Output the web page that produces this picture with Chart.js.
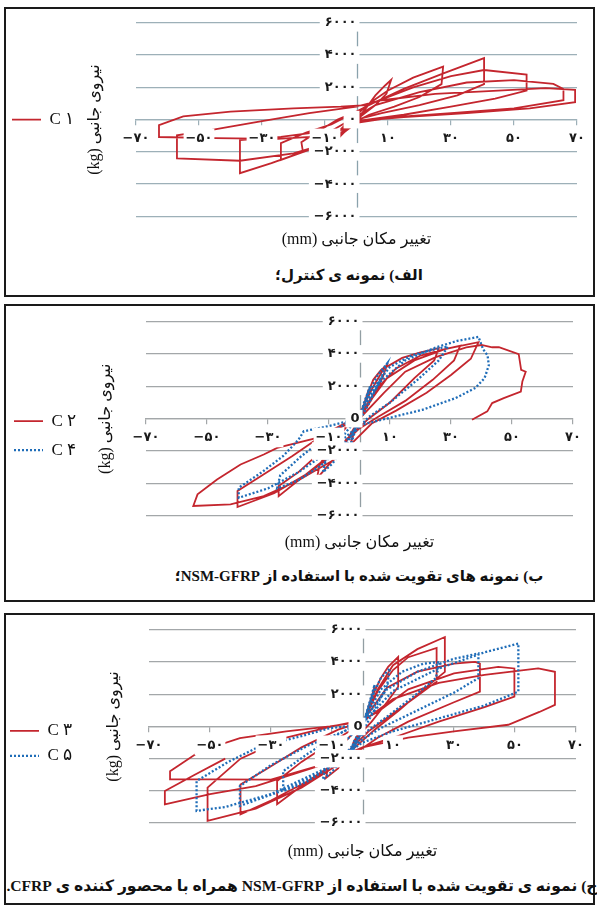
<!DOCTYPE html>
<html lang="fa">
<head>
<meta charset="utf-8">
<script src="https://cdn.jsdelivr.net/npm/chart.js@4.4.1/dist/chart.umd.min.js"></script>
<style>
  body { margin: 0; width: 597px; height: 906px; background: #fff; position: relative; overflow: hidden; }
  .box { position: absolute; left: 4px; width: 591px; box-sizing: border-box; border: 2px solid #1a1a1a; }
  canvas { position: absolute; left: 2px; }
  .caption { position: absolute; transform: translateX(-50%); direction: rtl; white-space: nowrap;
             font: bold 15px 'Liberation Serif', 'DejaVu Sans', serif; color: #111; }
</style>
</head>
<body>
<div class="box" style="top:7px;height:290px"></div>
<div class="box" style="top:304px;height:298px"></div>
<div class="box" style="top:613px;height:292px"></div>

<canvas id="chart1" width="592" height="245" style="top:9px"></canvas>
<canvas id="chart2" width="592" height="250" style="top:306px"></canvas>
<canvas id="chart3" width="592" height="248" style="top:616px"></canvas>

<div class="caption" style="left:349px;top:266px">الف) نمونه ی کنترل؛</div>
<div class="caption" style="left:359px;top:567px">ب) نمونه های تقویت شده با استفاده از NSM-GFRP؛</div>
<div class="caption" style="left:302px;top:877px;font-size:15.6px">ج) نمونه ی تقویت شده با استفاده از NSM-GFRP همراه با محصور کننده ی CFRP.</div>

<script>
// محورها
const xTickValues = [-70, -50, -30, -10, 10, 30, 50, 70];
const xTickLabels = ['−۷۰', '−۵۰', '−۳۰', '−۱۰', '۱۰', '۳۰', '۵۰', '۷۰'];
const yTickValues = [-6000, -4000, -2000, 0, 2000, 4000, 6000];
const yTickLabels = ['−۶۰۰۰', '−۴۰۰۰', '−۲۰۰۰', '۰', '۲۰۰۰', '۴۰۰۰', '۶۰۰۰'];
const yTickLabelsB = ['−۶۰۰۰', '−۴۰۰۰', '−۲۰۰۰', '0', '۲۰۰۰', '۴۰۰۰', '۶۰۰۰'];

const yTitle = '\u202Bنیروی جانبی (kg)\u202C';
const xTitle = '\u202Bتغییر مکان جانبی (mm)\u202C';

// [تغییر مکان mm, نیرو kg]
const c1Loop = [
  [0, 0], [3, 700], [6, 1500], [9, 2100], [11, 2460], [9.5, 1600], [6, 900], [2, 300], [0, 0], [-3, -600], [-5.5, -1100], [-7.5, -1500], [-7, -1000], [-4, -400], [0, 300],
  [4, 1000], [10, 1800], [18, 2600], [27.5, 3280], [27, 2200], [20, 1400], [12, 800], [4, 300], [0, -100], [-5, -900], [-10, -1500], [-17, -2000], [-17.5, -1400], [-12, -700], [-6, 0], [0, 500],
  [5, 1000], [15, 1900], [28, 2900], [40.5, 3810], [40.5, 2200], [32, 1500], [20, 900], [8, 400], [0, 0], [-6, -1000], [-14, -1800], [-24, -2500], [-24, -1460], [-16, -800], [-8, -300], [0, 500],
  [6, 1100], [18, 2000], [30, 2700], [40.5, 3075], [54, 2790], [54, 1800], [44, 1300], [30, 800], [15, 300], [0, -100], [-8, -1300], [-17, -2000], [-27, -2700], [-37, -3320], [-37, -1270], [-24, -1070], [-7.6, -660], [0, 200],
  [6, 900], [20, 1700], [35, 2300], [50, 2450], [62.5, 2210], [65.7, 1900], [65.7, 1200], [50, 700], [30, 400], [12, 150], [0, -200], [-8, -1400], [-20, -2100], [-37, -2550], [-57, -2400], [-57, -970], [-45, -600], [-30, -100], [-15, 400], [0, 800],
  [8, 1200], [25, 1600], [45, 1800], [60, 1950], [69.4, 1845], [69.4, 1080], [55, 700], [35, 400], [15, 150], [0, -100], [-8, -1000], [-25, -1200], [-45, -1150], [-62.7, -1080], [-62.7, -350], [-55, 200], [-40, 500], [-20, 700], [-5, 800], [3, 900]
];

const c2Loop = [
  [0, 0], [1.5, 900], [3, 1800], [2, 1100], [0, 200], [-1.5, -700], [-3, -1600], [-2, -900], [0, 0],
  [2, 1200], [4.5, 2400], [7, 3000], [9, 3300], [7.5, 2500], [4, 1200], [0, 0], [-4, -1300], [-9, -2600], [-14, -3700], [-13, -2800], [-8, -1400], [-3, -200], [0, 300],
  [4, 1800], [8, 3100], [14, 3750], [20, 4100], [26, 4350], [24.5, 3600], [18, 2500], [10, 1000], [3, 0], [-5, -1400], [-12, -2700], [-20, -3800], [-26.5, -4780], [-26.5, -4160], [-20, -3300], [-13, -2100], [-6, -800], [0, 200],
  [6, 1900], [12, 3100], [20, 3900], [28, 4300], [33, 4500], [31, 3600], [24, 2400], [15, 1100], [6, 100], [0, -600], [-8, -2000], [-18, -3500], [-28, -4600], [-40, -5450], [-40, -4470], [-32, -3500], [-22, -2300], [-12, -1000], [0, 200],
  [9, 2500], [18, 3600], [28, 4300], [39, 4720], [36.5, 3700], [30, 2700], [22, 1600], [12, 500], [4, -300], [-7.3, -2420], [-20.4, -3850], [-31.4, -4780], [-42.3, -5290], [-54.5, -5390], [-53.1, -4670], [-46.7, -3750], [-39, -2830], [-31.4, -2210], [-27, -1800], [-13.9, -1190], [0, 0],
  [8, 1600], [15, 2900], [25, 3800], [35, 4400], [40, 4550], [43.5, 4410], [45.7, 4410], [52.2, 3980], [53, 3010], [54.5, 2900], [53.4, 2300], [52.9, 1680], [47.3, 1270], [43.5, 965], [41.9, 450], [36.9, -60]
];

const c4Loop = [
  [0, 0], [1.5, 1000], [3.5, 2000], [2, 1000], [0, 100], [-1.5, -800], [-3, -1700], [-2, -800], [0, 0],
  [3, 1600], [6, 2700], [9, 3400], [7, 2500], [3, 900], [0, -100], [-4, -1500], [-9, -2800], [-12, -3300], [-11, -2500], [-6, -1200], [0, 200],
  [5, 2000], [10, 3200], [17, 3900], [25, 4300], [29, 4450], [26, 3600], [19, 2400], [10, 1000], [3, 100], [-4, -1300], [-12, -2800], [-20, -3800], [-27, -4300], [-26, -3500], [-19, -2300], [-10, -1000], [0, 300],
  [7, 2300], [15, 3600], [25, 4400], [32, 4800], [39, 5050], [40.5, 4300], [42, 3900], [42.4, 3300], [41, 2500], [38, 1900], [31.5, 1270], [20.6, 550], [9.6, 40], [0, -400], [-10, -2000], [-20, -3300], [-30, -4300], [-39.6, -4880], [-39.6, -4260], [-32, -3300], [-25, -2300], [-20, -1300], [-18.3, -780], [-10, -450], [-4, -170], [0, 0]
];

const c3Loop = [
  [0, 0], [2, 1200], [4, 2500], [3, 1500], [0, 100], [-2, -900], [-4, -1800], [-3, -1000], [0, 0],
  [3, 1800], [6, 3000], [8.4, 3700], [11.7, 4320], [11.7, 2470], [8, 1500], [3, 300], [0, -300], [-4, -1500], [-8, -2600], [-12, -3200], [-11, -2300], [-6, -1000], [0, 200],
  [5, 2200], [10, 3500], [15, 4300], [24.3, 4870], [24.3, 2780], [18, 1900], [10, 800], [2, -300], [-6, -1800], [-14, -3000], [-20, -3700], [-28, -4830], [-28, -3390], [-20, -2200], [-12, -1200], [0, 200],
  [5, 2300], [10, 3800], [18, 4800], [27, 5550], [27, 3390], [20, 2300], [12, 1000], [4, -200], [-6, -1900], [-18, -3400], [-30, -4600], [-40, -5450], [-40, -3600], [-32, -2700], [-20, -1300], [-8, -200], [0, 300],
  [8, 2400], [18, 3400], [30, 3900], [36.9, 4010], [38.5, 3900], [38.5, 2160], [30, 1500], [15, 300], [5, -700], [-5, -2000], [-20, -3800], [-35, -5100], [-50.8, -5860], [-50.8, -3800], [-40, -2000], [-25, -700], [-10, 0], [0, 400],
  [5, 900], [15, 2300], [30, 3300], [44.5, 3700], [49.8, 3600], [49.8, 1850], [40, 1200], [25, 300], [10, -700], [0, -1300], [-10, -2200], [-30, -3300], [-48.9, -3290], [-63.1, -3290], [-63.1, -2777], [-53.3, -1540], [-40.2, -720], [-25, -300], [-10.7, 0], [0, 300],
  [10, 1700], [25, 2700], [40, 3200], [57.6, 3600], [63.1, 3394], [63.1, 1340], [58, 900], [47.8, 105], [30, -300], [15, -700], [0, -1300], [-15, -2500], [-35, -3700], [-50, -4200], [-64.8, -4830], [-64.8, -4010], [-55, -3000], [-45, -2000]
];

const c5Loop = [
  [0, 0], [2, 1300], [4, 2600], [3, 1500], [0, 0], [-2, -1000], [-4, -1900], [-3, -1000], [0, 0],
  [3, 1800], [6, 3000], [9, 3600], [8, 2500], [3, 700], [0, -300], [-5, -1800], [-10, -2800], [-13, -3300], [-12, -2400], [-6, -1000], [0, 200],
  [6, 2300], [13, 3400], [20, 3900], [25.4, 4000], [24, 3000], [17, 1900], [8, 600], [0, -500], [-8, -2200], [-18, -3400], [-26, -4010], [-26, -2780], [-18, -1700], [-8, -500], [0, 300],
  [8, 2300], [18, 3400], [30, 4200], [38, 4530], [38, 3000], [30, 2100], [18, 1000], [6, -100], [0, -800], [-10, -2500], [-25, -3900], [-40.2, -4930], [-40.2, -3700], [-30, -2400], [-18, -1200], [-6, -300], [0, 200],
  [10, 2200], [25, 3600], [40, 4600], [51.1, 5146], [51.1, 2160], [40, 1300], [25, 500], [10, -300], [0, -1000], [-12, -2600], [-30, -4200], [-45, -5000], [-54.4, -5240], [-54.4, -3390], [-44, -2200], [-34.7, -1330], [-20, -600], [-10.7, -100], [0, 100]
];

const red = '#c4262e';
const blue = '#1f6db8';
const serif = "'Liberation Serif', 'DejaVu Sans', serif";
const tickFont = { family: "'DejaVu Sans'", size: 13, weight: 'bold' };
const titleSize = 16;

function redSeries(label, loop) {
  return { label, data: loop.map(([x, y]) => ({ x, y })), borderColor: red, backgroundColor: red,
           borderWidth: 1.8, borderDash: [], order: 1 };
}
function blueSeries(label, loop) {
  return { label, data: loop.map(([x, y]) => ({ x, y })), borderColor: blue, backgroundColor: blue,
           borderWidth: 2.3, borderDash: [2, 2], order: 0 };
}

// خط قائم محور در x = 0، زیر منحنی ها
const zeroLine = {
  id: 'zeroLine',
  beforeDatasetsDraw(chart, args, opts) {
    const { ctx, chartArea, scales } = chart;
    const x = Math.round(scales.x.getPixelForValue(0)) + 0.5;
    ctx.save();
    ctx.setLineDash([]);
    ctx.strokeStyle = opts.color;
    ctx.lineWidth = 1.3;
    ctx.beginPath();
    ctx.moveTo(x, chartArea.top);
    ctx.lineTo(x, chartArea.bottom);
    ctx.stroke();
    ctx.restore();
  }
};

function hysteresisChart(id, datasets, cfg) {
  datasets.forEach((d) => Object.assign(d, { showLine: true, pointRadius: 0, tension: 0 }));
  const chart = new Chart(document.getElementById(id), {
    type: 'scatter',
    data: { datasets },
    plugins: [zeroLine],
    options: {
      responsive: false,
      animation: false,
      events: [],
      layout: { padding: cfg.padding },
      scales: {
        x: {
          type: 'linear', min: -70, max: 70, position: { y: 0 },
          afterBuildTicks: (axis) => { axis.ticks = xTickValues.map((v) => ({ value: v })); },
          grid: { drawOnChartArea: false, tickLength: 5, color: cfg.gridColor, lineWidth: 1.2 },
          border: { color: cfg.gridColor, width: 1.3 },
          ticks: {
            callback: (v) => xTickLabels[xTickValues.indexOf(v)],
            font: tickFont, color: '#1a1a1a', padding: 6, z: 1, autoSkip: false, maxRotation: 0,
            showLabelBackdrop: true, backdropColor: '#ffffff', backdropPadding: 2
          }
        },
        y: {
          type: 'linear', min: -6000, max: 6000, position: { x: 0 },
          afterBuildTicks: (axis) => { axis.ticks = yTickValues.map((v) => ({ value: v })); },
          grid: { color: cfg.gridColor, lineWidth: 1.3, tickLength: 6 },
          border: { display: false },
          ticks: {
            callback: (v) => cfg.yLabels[yTickValues.indexOf(v)],
            font: tickFont, color: '#1a1a1a', padding: 6, z: 1, autoSkip: false,
            showLabelBackdrop: true, backdropColor: '#ffffff',
            backdropPadding: { top: 1, bottom: 1, left: 5, right: 3 }
          }
        }
      },
      plugins: {
        tooltip: { enabled: false },
        zeroLine: { color: cfg.axisColor },
        legend: {
          position: 'left', fullSize: false, weight: 1000, reverse: true,
          title: { display: cfg.legendShift > 0, text: ' ', font: { size: 10 }, padding: { top: cfg.legendShift, bottom: 0 } },
          labels: { boxWidth: 29, boxHeight: 0, padding: cfg.legendGap,
                    color: '#111', font: { family: serif, size: 17 } }
        },
        title: {
          display: true, text: yTitle, position: 'left', fullSize: false, weight: 500,
          color: '#111', font: { family: serif, size: titleSize, weight: 'normal' }, padding: { top: 10, bottom: 10 }
        },
        subtitle: {
          display: true, text: xTitle, position: 'bottom', fullSize: false,
          color: '#111', font: { family: serif, size: 16 }, padding: cfg.subPad
        }
      }
    }
  });
  // جای عنوان محور عمودی و لبه ی چپ ناحیه ی نمودار بعد از اندازه گیری پهنای راهنما
  const lw = chart.legend.width;
  const lh = titleSize * 1.2;
  const top = cfg.titleX - lw - lh / 2;
  chart.options.plugins.title.padding = { top, bottom: cfg.areaLeft - lw - lh - top };
  chart.update();
  return chart;
}

hysteresisChart('chart1', [redSeries('C ۱', c1Loop)], {
  padding: { left: 0, top: 12.5, right: 17, bottom: 5 },
  titleX: 93, areaLeft: 134, subPad: { top: 13.4, bottom: 0 }, legendShift: 0,
  gridColor: '#9db0b8', axisColor: '#8aa2ac', yLabels: yTickLabels, legendGap: 10
});

hysteresisChart('chart2', [redSeries('C ۲', c2Loop), blueSeries('C ۴', c4Loop)], {
  padding: { left: 0, top: 15.5, right: 21, bottom: 4 },
  titleX: 104, areaLeft: 144, subPad: { top: 16.9, bottom: 0 }, legendShift: 22,
  gridColor: '#a3a7a9', axisColor: '#929ea3', yLabels: yTickLabelsB, legendGap: 12
});

hysteresisChart('chart3', [redSeries('C ۳', c3Loop), blueSeries('C ۵', c5Loop)], {
  padding: { left: 0, top: 13, right: 18, bottom: 3 },
  titleX: 112, areaLeft: 147, subPad: { top: 18.7, bottom: 0 }, legendShift: 22,
  gridColor: '#a3a7a9', axisColor: '#929ea3', yLabels: yTickLabelsB, legendGap: 8
});
</script>
</body>
</html>
